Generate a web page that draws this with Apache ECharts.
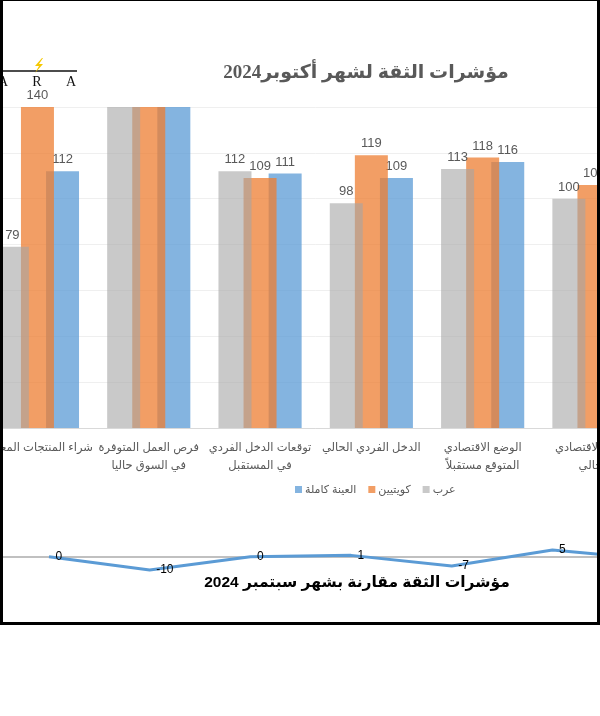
<!DOCTYPE html>
<html>
<head>
<meta charset="utf-8">
<script src="https://cdn.jsdelivr.net/npm/echarts@6/dist/echarts.min.js"></script>
<style>
html, body { margin: 0; padding: 0; background: #fff; overflow: hidden; }
#wrap { position: relative; width: 600px; height: 716px; overflow: hidden; }
/* الصورة الأصلية مقصوصة من الجانبين، لذلك الرسم أعرض من النافذة */
#chart { position: absolute; left: -60px; top: 0; width: 780px; height: 716px; }
</style>
</head>
<body>
<div id="wrap"><div id="chart"></div></div>
<script>
// المحاور (الفئات)
var categories = [
    'شراء المنتجات المعمرة',
    'فرص العمل المتوفرة\nفي السوق حاليا',
    'توقعات الدخل الفردي\nفي المستقبل',
    'الدخل الفردي الحالي',
    'الوضع الاقتصادي\nالمتوقع مستقبلاً',
    'الوضع الاقتصادي\nالحالي'
];
// القيم - المجموعة الثانية تتجاوز 140 (مقطوعة في الصورة)
var arabs      = [79, 146, 112, 98, 113, 100];
var kuwaitis   = [140, 148, 109, 119, 118, 106];
var fullSample = [112, 145, 111, 109, 116, 104];
// مقارنة بشهر سبتمبر
var changeVsSeptember = [0, -10, 0, 1, -7, 5, -2];
var yTicks = { min: 0, max: 140, interval: 20 };

var OX = 60; // إزاحة الرسم داخل الحاوية
var myChart = echarts.init(document.getElementById('chart'));

var labelFont = "'Liberation Sans', 'DejaVu Sans', sans-serif";

function barLabel() {
    return {
        show: true,
        position: 'top',
        distance: 5,
        color: '#595959',
        fontSize: 13,
        fontFamily: labelFont,
        formatter: function (p) { return p.value > yTicks.max ? '' : p.value; }
    };
}

function barSeries(name, data, color, z) {
    return {
        name: name,
        type: 'bar',
        xAxisIndex: 0,
        yAxisIndex: 0,
        data: data,
        z: z,
        barWidth: 33,
        barGap: '-24%',
        clip: true,
        itemStyle: { color: color },
        label: barLabel()
    };
}

function txt(x, y, s, font, fill, z) {
    return {
        type: 'text', x: x + OX, y: y, z: z || 10,
        style: { text: s, fill: fill, font: font, textAlign: 'center', textVerticalAlign: 'middle' }
    };
}

function box(x, y, w, h) {
    return { type: 'rect', z: 20, shape: { x: x + OX, y: y, width: w, height: h }, style: { fill: '#000' } };
}

var option = {
    animation: false,
    backgroundColor: '#ffffff',
    textStyle: { fontFamily: labelFont },
    legend: {
        data: ['العينة كاملة', 'كويتيين', 'عرب'],
        left: 290 + OX,
        top: 479,
        itemWidth: 7,
        itemHeight: 7,
        itemGap: 12,
        icon: 'rect',
        textStyle: { color: '#595959', fontSize: 11, fontFamily: labelFont, padding: [0, 0, 0, -2] }
    },
    grid: [
        { left: 41.8, right: 70.4, top: 107, height: 321, containLabel: false },
        { left: 58.65, right: 16.5, top: 536.7, height: 40, containLabel: false }
    ],
    xAxis: [{
        type: 'category',
        gridIndex: 0,
        data: categories,
        axisTick: { show: false },
        axisLine: { lineStyle: { color: '#d9d9d9', width: 1 } },
        axisLabel: {
            interval: 0,
            color: '#595959',
            fontSize: 11.5,
            lineHeight: 18,
            margin: 11,
            fontFamily: labelFont
        }
    }, {
        type: 'category',
        gridIndex: 1,
        data: categories.concat(['']),
        axisTick: { show: false },
        axisLabel: { show: false },
        axisLine: { onZero: true, lineStyle: { color: '#c0c0c0', width: 2 } }
    }],
    yAxis: [{
        type: 'value',
        gridIndex: 0,
        min: yTicks.min,
        max: yTicks.max,
        interval: yTicks.interval,
        axisLabel: { show: false },
        axisLine: { show: false },
        axisTick: { show: false },
        splitLine: { lineStyle: { color: '#efefef', width: 1 } }
    }, {
        type: 'value',
        gridIndex: 1,
        min: -15,
        max: 15,
        axisLabel: { show: false },
        axisLine: { show: false },
        axisTick: { show: false },
        splitLine: { show: false }
    }],
    series: [
        barSeries('عرب', arabs, 'rgba(165,165,165,0.6)', 4),
        barSeries('كويتيين', kuwaitis, 'rgba(237,125,49,0.75)', 3),
        barSeries('العينة كاملة', fullSample, 'rgba(91,155,213,0.75)', 2),
        {
            name: 'مقارنة',
            type: 'line',
            xAxisIndex: 1,
            yAxisIndex: 1,
            data: changeVsSeptember,
            symbol: 'circle',
            symbolSize: 1,
            showSymbol: true,
            clip: false,
            lineStyle: { color: '#5B9BD5', width: 3 },
            itemStyle: { color: 'rgba(0,0,0,0)' },
            label: {
                show: true,
                position: 'right',
                distance: 6,
                color: '#000',
                fontSize: 12,
                fontFamily: labelFont
            }
        }
    ],
    graphic: [
        // العناوين
        txt(366, 73, '\u2067مؤشرات الثقة لشهر أكتوبر2024\u2069',
            "bold 19px 'Liberation Serif', 'DejaVu Sans', serif", '#595959'),
        txt(357, 583, '\u2067مؤشرات الثقة مقارنة بشهر سبتمبر 2024\u2069',
            "bold 15.5px 'Liberation Sans', 'DejaVu Sans', sans-serif", '#000'),
        // الشعار
        { type: 'line', z: 10, shape: { x1: OX, y1: 71, x2: 77 + OX, y2: 71 }, style: { stroke: '#111', lineWidth: 1.5 } },
        txt(3, 82, 'A', "14px 'Liberation Serif', serif", '#111'),
        txt(37, 82, 'R', "14px 'Liberation Serif', serif", '#111'),
        txt(71, 82, 'A', "14px 'Liberation Serif', serif", '#111'),
        {
            type: 'polygon', z: 11,
            shape: { points: [[42 + OX, 58], [35 + OX, 66], [39 + OX, 66], [35 + OX, 73], [43 + OX, 64], [39 + OX, 64], [43 + OX, 58]] },
            style: { fill: '#F5C800' }
        },
        // الإطار
        box(0, 0, 3, 625),
        box(597, 0, 3, 625),
        box(0, 0, 600, 1),
        box(0, 622, 600, 3)
    ]
};

myChart.setOption(option);
</script>
</body>
</html>
